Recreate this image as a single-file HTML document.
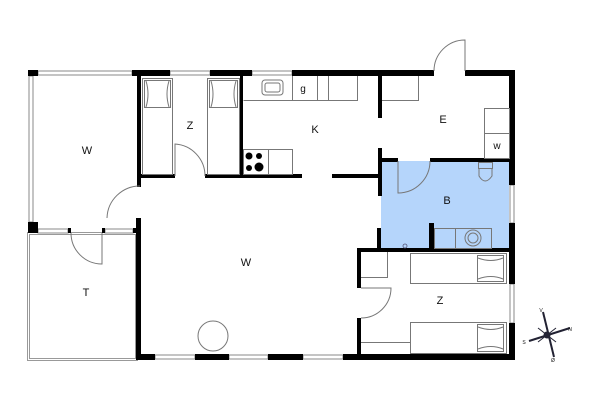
<!DOCTYPE html>
<html><head><meta charset="utf-8"><style>
html,body{margin:0;padding:0;background:#fff;width:600px;height:400px;overflow:hidden}
svg{display:block}
text{font-family:"Liberation Sans",sans-serif;font-size:11px;fill:#111;text-anchor:middle}
</style></head><body>
<svg width="600" height="400" viewBox="0 0 600 400" xmlns="http://www.w3.org/2000/svg">
<!-- bathroom fill -->
<rect x="381" y="161" width="128" height="88" fill="#b5d5fb"/>
<!-- terrace outline -->
<rect x="28.5" y="233.5" width="108" height="126" fill="none" stroke="#999" stroke-width="3"/>
<rect x="28.5" y="233.5" width="108" height="126" fill="none" stroke="#fff" stroke-width="1"/>
<!-- windows (gray double line) -->
<g fill="#fff" stroke="#888" stroke-width="1">
<rect x="38" y="71" width="94" height="4"/>
<rect x="170" y="71" width="40" height="4"/>
<rect x="252" y="71" width="40" height="4"/>
<rect x="29" y="76" width="4" height="146"/>
<rect x="38" y="229" width="30" height="4"/>
<rect x="105" y="229" width="28" height="4"/>
<rect x="155" y="355" width="40" height="4"/>
<rect x="229" y="355" width="39" height="4"/>
<rect x="303" y="355" width="40" height="4"/>
<rect x="510" y="185" width="4" height="38"/>
<rect x="510" y="284" width="4" height="39"/>
</g>
<!-- thick walls -->
<g fill="#000">
<rect x="28" y="70" width="10" height="6"/>
<rect x="132" y="70" width="38" height="6"/>
<rect x="210" y="70" width="42" height="6"/>
<rect x="292" y="70" width="142" height="6"/>
<rect x="465" y="70" width="50" height="6"/>
<rect x="509" y="70" width="6" height="115"/>
<rect x="509" y="223" width="6" height="61"/>
<rect x="509" y="323" width="6" height="37"/>
<rect x="28" y="222" width="10" height="11"/>
<rect x="68" y="228" width="3" height="5"/>
<rect x="102" y="228" width="3" height="5"/>
<rect x="133" y="228" width="8" height="5"/>
<rect x="137" y="70" width="4" height="117"/>
<rect x="136" y="218" width="5" height="142"/>
<rect x="136" y="354" width="19" height="6"/>
<rect x="195" y="354" width="34" height="6"/>
<rect x="268" y="354" width="35" height="6"/>
<rect x="343" y="354" width="172" height="6"/>
<rect x="141" y="174" width="34" height="4"/>
<rect x="205" y="174" width="97" height="4"/>
<rect x="240" y="76" width="3" height="102"/>
<rect x="378" y="76" width="4" height="42"/>
<rect x="378" y="148" width="4" height="48"/>
<rect x="332" y="174" width="50" height="4"/>
<rect x="381" y="158" width="17" height="4"/>
<rect x="430" y="158" width="85" height="4"/>
<rect x="377" y="228" width="4" height="21"/>
<rect x="429" y="223" width="5" height="26"/>
<rect x="357" y="248" width="158" height="4"/>
<rect x="357" y="248" width="4" height="40"/>
<rect x="357" y="318" width="4" height="42"/>
</g>
<!-- thin furniture -->
<g fill="none" stroke="#777" stroke-width="1">
<!-- Z beds -->
<rect x="142.5" y="78.5" width="30" height="96"/>
<rect x="144.5" y="80.5" width="26" height="27"/>
<path d="M146 81 q4 13 0 26 M169 81 q-4 13 0 26"/>
<rect x="207.5" y="78.5" width="32" height="96"/>
<rect x="209.5" y="80.5" width="28" height="27"/>
<path d="M211 81 q4 13 0 26 M236 81 q-4 13 0 26"/>
<!-- kitchen counter -->
<path d="M243.5 100.5 H357.5 V76 M292.5 76 V100 M317.5 76 V100 M328.5 76 V100 M382 100.5 H418.5 V76"/>
<rect x="262" y="80" width="21" height="15" rx="3"/>
<rect x="265" y="83" width="15" height="9" rx="2"/>
<rect x="243.5" y="149.5" width="49" height="25"/>
<line x1="268.5" y1="150" x2="268.5" y2="174"/>
<!-- E washer -->
<rect x="484.5" y="108.5" width="25" height="50"/>
<line x1="484" y1="133.5" x2="509" y2="133.5"/>
<!-- toilet -->
<rect x="478.5" y="162.5" width="14" height="6"/>
<path d="M479 168 v8 q6 10 13 0 v-8"/>
<!-- bath sink -->
<rect x="434.5" y="228.5" width="57" height="20"/>
<line x1="455.5" y1="228" x2="455.5" y2="248"/>
<circle cx="473" cy="238" r="8"/>
<circle cx="473" cy="238" r="5"/>
<!-- Z2 closets -->
<path d="M361 277.5 H387.5 V252 M361 342.5 H410"/>
<!-- Z2 beds -->
<rect x="410.5" y="253.5" width="96" height="30"/>
<rect x="477.5" y="255.5" width="26" height="26"/>
<path d="M478 258 q13 5 25 0 M478 279 q13 -5 25 0"/>
<rect x="410.5" y="322.5" width="96" height="31"/>
<rect x="477.5" y="324.5" width="26" height="27"/>
<path d="M478 327 q13 5 25 0 M478 349 q13 -5 25 0"/>
<!-- table -->
<circle cx="213" cy="336" r="15"/>
<!-- doors -->
<path d="M175 176 V144 A32 32 0 0 1 205 176"/>
<path d="M107 218 A33 33 0 0 1 140 186"/>
<path d="M71 233 A31 31 0 0 0 102 264 V233"/>
<path d="M434 71 A31 31 0 0 1 465 40 V71"/>
<path d="M398 161 V193 A32 32 0 0 0 430 161"/>
<path d="M361 318 A30 30 0 0 0 391 288 H361"/>
</g>
<circle cx="405" cy="246" r="2" fill="none" stroke="#557" stroke-width="0.8"/>
<!-- stove -->
<g fill="#000">
<circle cx="249" cy="156" r="3.5"/><circle cx="259" cy="156" r="3"/>
<circle cx="249" cy="168" r="3"/><circle cx="259" cy="167" r="4.5"/>
</g>
<!-- compass -->
<g stroke="#223" fill="#223">
<line x1="529" y1="341" x2="570" y2="328" stroke-width="2"/>
<line x1="543" y1="312" x2="554" y2="357" stroke-width="2"/>
<line x1="538" y1="328" x2="556" y2="342" stroke-width="1"/>
<line x1="556" y1="328" x2="538" y2="342" stroke-width="1"/>
<circle cx="547" cy="335" r="3"/>
</g>
<text x="541" y="312" style="font-size:5px">V</text>
<text x="570" y="331" style="font-size:5px">N</text>
<text x="524" y="344" style="font-size:5px">S</text>
<text x="553" y="362" style="font-size:5px">Ø</text>
<!-- labels -->
<text x="87" y="154">W</text>
<text x="190" y="129">Z</text>
<text x="315" y="133">K</text>
<text x="443" y="123">E</text>
<text x="497" y="149" style="font-size:10px">w</text>
<text x="447" y="204">B</text>
<text x="246" y="266">W</text>
<text x="86" y="296">T</text>
<text x="440" y="304">Z</text>
<text x="303" y="92" style="font-size:10px">g</text>
</svg>
</body></html>
